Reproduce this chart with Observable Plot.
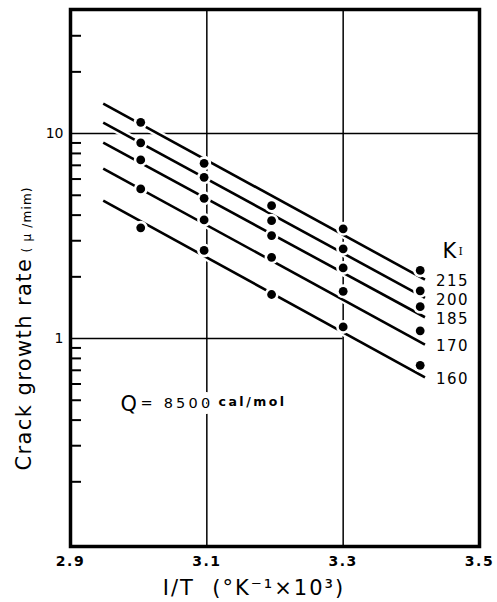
<!DOCTYPE html>
<html><head><meta charset="utf-8">
<script src="https://cdn.jsdelivr.net/npm/d3@7"></script>
<script src="https://cdn.jsdelivr.net/npm/@observablehq/plot@0.6"></script>
<style>body{margin:0;background:#fff}</style>
</head><body><div id="chart"></div>
<script>
// Stress intensity levels K_I (series labels)
const kLabels = ["215", "200", "185", "170", "160"];
// 1/T (K^-1 x 10^3) for the five test temperatures
const invT = [3.003, 3.096, 3.195, 3.300, 3.413];
// Crack growth rate (µ/min) per series, one value per temperature
const rateK215 = [11.35, 7.16, 4.45, 3.43, 2.15];
const rateK200 = [9.01, 6.12, 3.76, 2.74, 1.71];
const rateK185 = [7.44, 4.83, 3.18, 2.21, 1.43];
const rateK170 = [5.37, 3.79, 2.49, 1.70, 1.09];
const rateK160 = [3.47, 2.69, 1.64, 1.14, 0.74];
// Fitted Arrhenius lines: x extent and rate at each end
const fitX = [2.948, 3.420];
const fitStart = [14.0, 11.3, 9.04, 6.75, 4.71];
const fitEnd = [1.94, 1.58, 1.27, 0.935, 0.646];
// Axes
const xTickValues = [2.9, 3.1, 3.3, 3.5];
const yLabelValues = [1, 10];
const yMinorValues = [0.2, 0.3, 0.4, 0.5, 0.6, 0.7, 0.8, 0.9, 2, 3, 4, 5, 6, 7, 8, 9, 20, 30];
const gridXValues = [3.1, 3.3];
const gridYValues = [10, 1];
const gridYEnds = [3.5, 3.3];
const xDomain = [2.9, 3.5];
const yDomain = [0.0967, 40.3];

const series = [rateK215, rateK200, rateK185, rateK170, rateK160];
const points = series.flatMap((s, i) => s.map((v, j) => ({k: kLabels[i], x: invT[j], y: v})));
const fits = kLabels.map((k, i) => ({k, x1: fitX[0], y1: fitStart[i], x2: fitX[1], y2: fitEnd[i]}));
const gridRows = gridYValues.map((y, i) => ({y, x1: xDomain[0], x2: gridYEnds[i]}));

const FONT = "DejaVu Sans";
const plot = Plot.plot({
  width: 497, height: 602,
  marginLeft: 70, marginRight: 18, marginTop: 9, marginBottom: 56,
  x: {domain: xDomain},
  y: {type: "log", domain: yDomain},
  style: {fontFamily: FONT, background: "white", color: "black"},
  marks: [
    Plot.ruleX(gridXValues, {stroke: "black", strokeWidth: 1.5}),
    Plot.ruleY(gridRows, {y: "y", x1: "x1", x2: "x2", stroke: "black", strokeWidth: 1.5}),
    Plot.link(fits, {x1: "x1", y1: "y1", x2: "x2", y2: "y2", stroke: "white", strokeWidth: 7}),
    Plot.link(fits, {x1: "x1", y1: "y1", x2: "x2", y2: "y2", stroke: "black", strokeWidth: 2.6}),
    Plot.dot(points, {x: "x", y: "y", r: 7, fill: "white"}),
    Plot.dot(points, {x: "x", y: "y", r: 4.4, fill: "black"}),
    Plot.frame({stroke: "black", strokeWidth: 3.5}),
    Plot.axisY(yMinorValues, {tickSize: 11, dx: 11, strokeWidth: 2, tickFormat: () => "", label: null}),
    Plot.axisY(yLabelValues, {tickSize: 0, tickPadding: 7, fontSize: 14, label: null, tickFormat: d => String(d)}),
    Plot.axisX(xTickValues, {tickSize: 0, tickPadding: 10, fontSize: 14, fontWeight: "bold", tickFormat: d3.format(".1f"), label: null}),
    Plot.text(fits, {x: "x2", y: "y2", text: "k", textAnchor: "start", dx: 11, dy: 2, fontSize: 15}),
    Plot.text(["K"], {text: d => d, frameAnchor: "top-left", dx: 372, dy: 234, textAnchor: "start", fontSize: 21}),
    Plot.text(["I"], {text: d => d, frameAnchor: "top-left", dx: 388, dy: 238, textAnchor: "start", fontSize: 11, fontFamily: "DejaVu Serif"}),
    Plot.text(["Q"], {text: d => d, frameAnchor: "top-left", dx: 50, dy: 387, textAnchor: "start", fontSize: 21}),
    Plot.text(["= 8500"], {text: d => d, frameAnchor: "top-left", dx: 70, dy: 388, textAnchor: "start", fontSize: 14.5, stroke: "white", strokeWidth: 12, paintOrder: "stroke", fill: "black"}),
    Plot.text(["cal/mol"], {text: d => d, frameAnchor: "top-left", dx: 148, dy: 388, textAnchor: "start", fontSize: 12.5, fontWeight: "bold"}),
    Plot.text(["Crack growth rate"], {text: d => d, frameAnchor: "bottom-left", dx: -40, dy: -76, rotate: -90, textAnchor: "start", fontSize: 21}),
    Plot.text(["( \u03bc /mim)"], {text: d => d, frameAnchor: "bottom-left", dx: -40, dy: -294, rotate: -90, textAnchor: "start", fontSize: 12}),
    Plot.text(["I/T\u00a0\u00a0(\u00b0K\u207b\u00b9\u00d710\u00b3)"], {text: d => d, frameAnchor: "bottom", dx: -21, dy: 48, fontSize: 21})
  ]
});
const spacingByText = {
  "Crack growth rate": 1.4, "( \u03bc /mim)": 1.2, "= 8500": 3.2, "cal/mol": 2.5,
  "215": 1.5, "200": 1.5, "185": 1.5, "170": 1.5, "160": 1.5,
  "I/T\u00a0\u00a0(\u00b0K\u207b\u00b9\u00d710\u00b3)": 2,
  "2.9": 1.5, "3.1": 1.5, "3.3": 1.5, "3.5": 1.5
};
plot.querySelectorAll("text").forEach(t => {
  const v = spacingByText[t.textContent];
  if (v != null) { t.style.letterSpacing = v + "px"; t.setAttribute("letter-spacing", v); }
});
document.getElementById("chart").appendChild(plot);
</script>
</body></html>
